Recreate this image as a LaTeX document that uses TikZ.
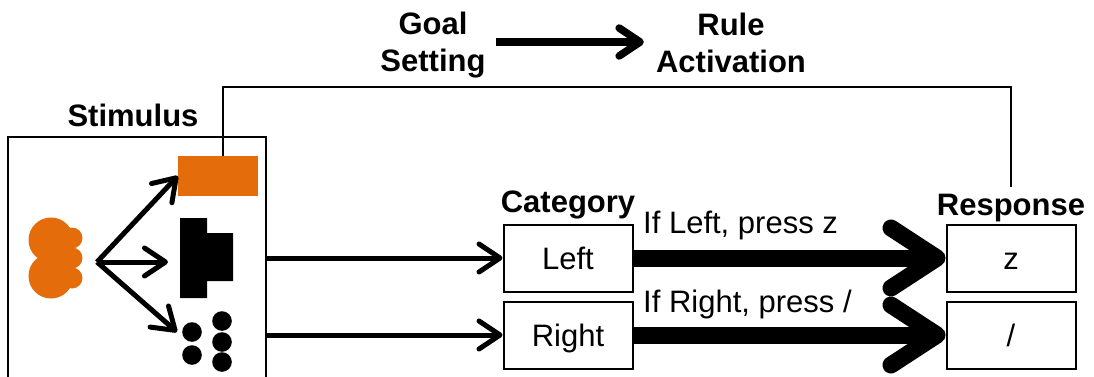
\documentclass[tikz,border=0pt]{standalone}
\usepackage{fontspec}
\setmainfont{Liberation Sans}
\usetikzlibrary{arrows.meta}

\definecolor{stimorange}{RGB}{228,108,10}

\tikzset{
  headtext/.style={font=\bfseries\fontsize{31}{37}\selectfont, inner sep=0pt},
  plaintext/.style={font=\fontsize{31}{37}\selectfont, inner sep=0pt},
  catbox/.style={draw, line width=2pt, minimum width=129pt, minimum height=67pt,
    text height=22pt, text depth=0pt, font=\fontsize{31}{37}\selectfont},
  thinarrow/.style={line width=5pt, -{Straight Barb[length=21pt,width=28pt,round]}},
  goalarrow/.style={line width=7.5pt, -{Straight Barb[length=21pt,width=28pt,round]}},
  ruleline/.style={line width=17pt, -{Straight Barb[length=46pt,width=60pt,round]}}
}

\begin{document}
\begin{tikzpicture}[x=1pt,y=-1pt]
  \useasboundingbox (0,0) rectangle (1094,377);

  % goal setting drives rule activation
  \node[headtext, align=center] (goal) at (433,45) {Goal\\Setting};
  \node[headtext, align=center] (rule) at (731,43) {Rule\\Activation};
  \draw[goalarrow, shorten <=10pt, shorten >=12pt] (goal.east |- 0,42) -- (rule.west |- 0,42);

  % stimulus panel, runs off the bottom edge
  \node[draw, line width=2pt, minimum width=258pt, minimum height=300pt, anchor=north] (stim) at (137,136) {};
  \node[headtext, anchor=base] (stimtitle) at (133,127) {Stimulus};

  % orange blob and its three features
  \fill[stimorange] (51,240) circle (22.5pt) (51,276) circle (22.5pt)
    (72,238) circle (10.5pt) (72,258) circle (10.5pt) (72,278) circle (10.5pt);
  \coordinate (fork) at (97,262);

  \node[fill=stimorange, minimum width=80pt, minimum height=40pt, inner sep=0pt] (colour) at (218,176) {};
  \fill (180,218) rectangle (207,298) (207,233) rectangle (233,281);
  \coordinate (shape) at (168,262);
  \foreach \p in {(192,332),(192,355),(222,321),(222,342),(222,362)}
    \fill \p circle (9.8pt);
  \coordinate (count) at (177,332);

  \foreach \t in {colour.west, shape, count}
    \draw[thinarrow] (fork) -- (\t);

  % categories
  \node[headtext, anchor=base] (cattitle) at (568,212) {Category};
  \node[catbox] (left) at (568,258) {Left};
  \node[catbox] (right) at (568,335) {Right};
  \draw[thinarrow] (stim.east |- left) -- (left);
  \draw[thinarrow] (stim.east |- right) -- (right);

  % responses
  \node[headtext, anchor=base] (resptitle) at (1011,215) {Response};
  \node[catbox] (z) at (1011,258) {z};
  \node[catbox] (slash) at (1011,335) {/};

  \draw[ruleline] (left) -- (z);
  \draw[ruleline] (right) -- (slash);
  \node[plaintext, anchor=base west] (ifleft) at (643,233) {If Left, press z};
  \node[plaintext, anchor=base west] (ifright) at (643,312) {If Right, press /};

  % feedback loop from colour feature to response
  \coordinate (loop) at (600,87);
  \draw[line width=2pt] ([xshift=5pt]colour.north) |- (loop) -| ([yshift=6pt]resptitle.north);
\end{tikzpicture}
\end{document}
